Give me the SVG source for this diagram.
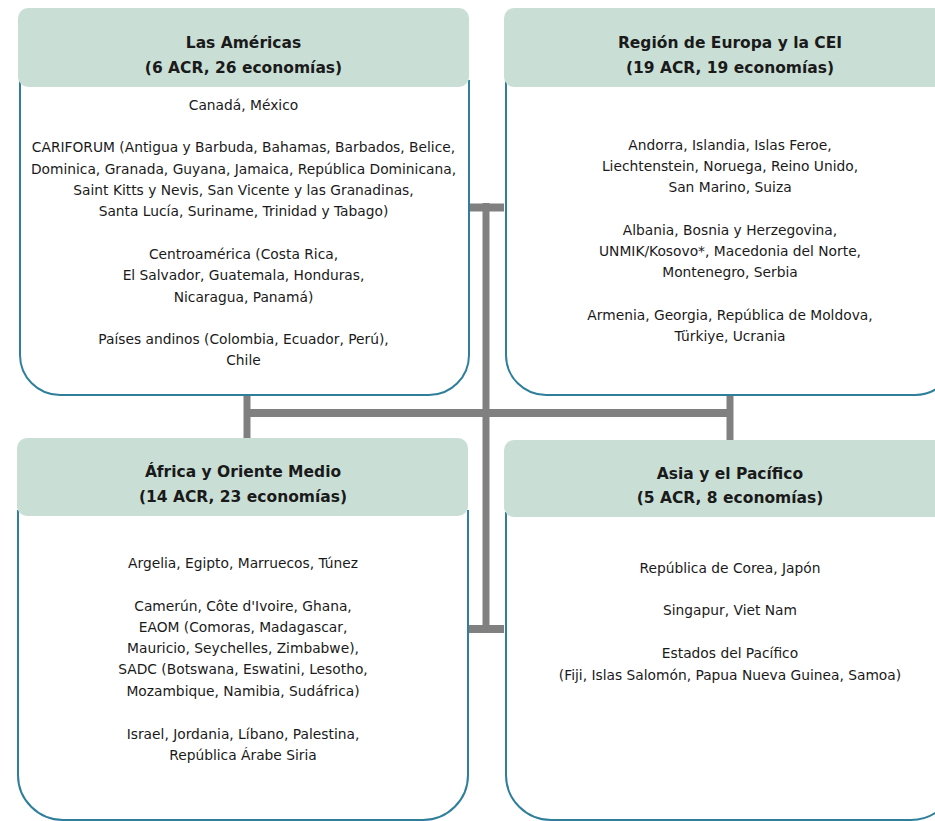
<svg xmlns="http://www.w3.org/2000/svg" width="935" height="821" viewBox="0 0 935 821">
<style>
.hd{fill:#c9dfd6;stroke:none}
.bd{fill:#ffffff;stroke:#2f7f9b;stroke-width:2}
.ht{font-family:"DejaVu Sans",sans-serif;font-weight:bold;font-size:15.5px;fill:#1a1a1a;text-anchor:middle}
.bt{font-family:"DejaVu Sans",sans-serif;font-size:13.8px;fill:#1a1a1a;text-anchor:middle}
.cn{stroke:#808080;fill:none}
</style>
<rect width="935" height="821" fill="#ffffff"/>
<g id="connectors">
<line class="cn" x1="486" y1="203" x2="486" y2="633" stroke-width="7"/>
<line class="cn" x1="469" y1="207.5" x2="504" y2="207.5" stroke-width="8"/>
<line class="cn" x1="469" y1="629" x2="504" y2="629" stroke-width="8"/>
<line class="cn" x1="247" y1="413" x2="730" y2="413" stroke-width="8"/>
<line class="cn" x1="247" y1="395" x2="247" y2="439" stroke-width="7"/>
<line class="cn" x1="730" y1="395" x2="730" y2="441" stroke-width="7"/>
</g>
<g id="americas">
<path class="bd" d="M20,80 V355 A40,40 0 0 0 60,395 H429 A40,40 0 0 0 469,355 V80"/>
<rect class="hd" x="18" y="8" width="451" height="79" rx="10"/>
<text class="ht" x="243.5" y="48">Las Américas</text>
<text class="ht" x="243.5" y="73">(6 ACR, 26 economías)</text>
<text class="bt" x="243.5" y="110">Canadá, México</text>
<text class="bt" x="243.5" y="152">CARIFORUM (Antigua y Barbuda, Bahamas, Barbados, Belice,</text>
<text class="bt" x="243.5" y="174">Dominica, Granada, Guyana, Jamaica, República Dominicana,</text>
<text class="bt" x="243.5" y="195">Saint Kitts y Nevis, San Vicente y las Granadinas,</text>
<text class="bt" x="243.5" y="216">Santa Lucía, Suriname, Trinidad y Tabago)</text>
<text class="bt" x="243.5" y="259">Centroamérica (Costa Rica,</text>
<text class="bt" x="243.5" y="280">El Salvador, Guatemala, Honduras,</text>
<text class="bt" x="243.5" y="302">Nicaragua, Panamá)</text>
<text class="bt" x="243.5" y="344">Países andinos (Colombia, Ecuador, Perú),</text>
<text class="bt" x="243.5" y="365">Chile</text>
</g>
<g id="europa">
<path class="bd" d="M506,80 V355 A40,40 0 0 0 546,395 H915 A40,40 0 0 0 955,355 V80"/>
<rect class="hd" x="504" y="8" width="451" height="79" rx="10"/>
<text class="ht" x="730" y="48">Región de Europa y la CEI</text>
<text class="ht" x="730" y="73">(19 ACR, 19 economías)</text>
<text class="bt" x="730" y="150">Andorra, Islandia, Islas Feroe,</text>
<text class="bt" x="730" y="171">Liechtenstein, Noruega, Reino Unido,</text>
<text class="bt" x="730" y="192">San Marino, Suiza</text>
<text class="bt" x="730" y="235">Albania, Bosnia y Herzegovina,</text>
<text class="bt" x="730" y="256">UNMIK/Kosovo*, Macedonia del Norte,</text>
<text class="bt" x="730" y="277">Montenegro, Serbia</text>
<text class="bt" x="730" y="320">Armenia, Georgia, República de Moldova,</text>
<text class="bt" x="730" y="341">Türkiye, Ucrania</text>
</g>
<g id="africa">
<path class="bd" d="M18,510 V775 A45,45 0 0 0 63,820 H423 A45,45 0 0 0 468,775 V510"/>
<rect class="hd" x="17" y="438" width="451" height="78" rx="10"/>
<text class="ht" x="243" y="477">África y Oriente Medio</text>
<text class="ht" x="243" y="502">(14 ACR, 23 economías)</text>
<text class="bt" x="243" y="568">Argelia, Egipto, Marruecos, Túnez</text>
<text class="bt" x="243" y="611">Camerún, Côte d'Ivoire, Ghana,</text>
<text class="bt" x="243" y="632">EAOM (Comoras, Madagascar,</text>
<text class="bt" x="243" y="653">Mauricio, Seychelles, Zimbabwe),</text>
<text class="bt" x="243" y="674">SADC (Botswana, Eswatini, Lesotho,</text>
<text class="bt" x="243" y="696">Mozambique, Namibia, Sudáfrica)</text>
<text class="bt" x="243" y="739">Israel, Jordania, Líbano, Palestina,</text>
<text class="bt" x="243" y="760">República Árabe Siria</text>
</g>
<g id="asia">
<path class="bd" d="M506,512 V775 A45,45 0 0 0 551,820 H911 A45,45 0 0 0 956,775 V512"/>
<rect class="hd" x="504" y="440" width="452" height="77" rx="10"/>
<text class="ht" x="730" y="479">Asia y el Pacífico</text>
<text class="ht" x="730" y="503">(5 ACR, 8 economías)</text>
<text class="bt" x="730" y="573">República de Corea, Japón</text>
<text class="bt" x="730" y="615">Singapur, Viet Nam</text>
<text class="bt" x="730" y="658">Estados del Pacífico</text>
<text class="bt" x="730" y="680">(Fiji, Islas Salomón, Papua Nueva Guinea, Samoa)</text>
</g>
</svg>
